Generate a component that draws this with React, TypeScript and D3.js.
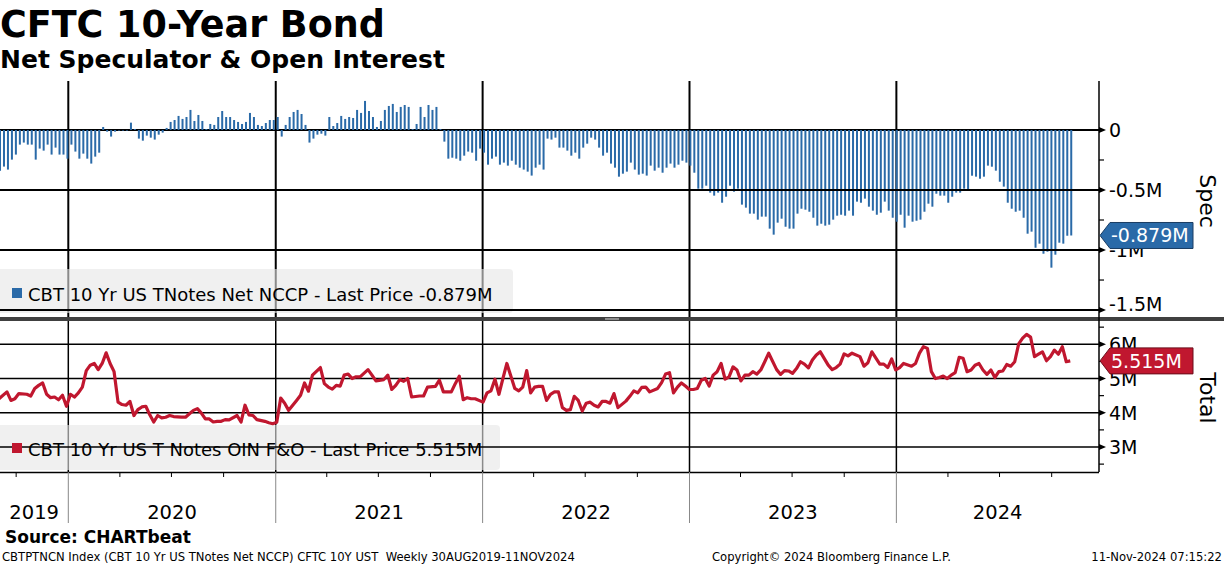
import React from 'react';
import * as d3 from 'd3';

// ---------- DATA ----------
const startDate = new Date(2019, 7, 30); // first weekly observation (30AUG2019)

// Net speculator position (millions of contracts), weekly from 30 Aug 2019
const specValues: number[] = [
  -0.34, -0.305, -0.33, -0.247, -0.205, -0.122, -0.105, -0.122, -0.122, -0.247,
  -0.155, -0.172, -0.122, -0.205, -0.147, -0.205, -0.205, -0.239, -0.122, -0.18,
  -0.239, -0.197, -0.239, -0.28, -0.222, -0.189, 0.025, -0.014, -0.055, -0.014,
  -0.005, -0.005, -0.005, 0.061, 0.008, -0.072, -0.089, -0.047, -0.064, -0.08,
  -0.039, -0.022, 0.017, 0.067, 0.083, 0.117, 0.092, 0.108, 0.167, 0.075,
  0.125, 0.075, 0.008, 0.05, 0.042, 0.108, 0.158, 0.108, 0.108, 0.083,
  0.067, 0.05, 0.067, 0.142, 0.108, 0.042, 0.033, 0.058, 0.083, 0.083,
  0.108, -0.055, 0.042, 0.108, 0.15, 0.167, 0.133, 0.042, -0.105, -0.072,
  -0.039, -0.031, -0.047, 0.108, 0.033, 0.058, 0.117, 0.092, 0.108, 0.1,
  0.167, 0.142, 0.242, 0.158, 0.108, 0.025, 0.075, 0.167, 0.2, 0.217,
  0.15, 0.192, 0.208, 0.192, 0.008, 0.05, 0.192, 0.108, 0.208, 0.167,
  0.192, 0.008, -0.097, -0.239, -0.231, -0.239, -0.256, -0.214, -0.18, -0.189,
  -0.256, -0.155, -0.189, -0.289, -0.239, -0.222, -0.289, -0.272, -0.297, -0.256,
  -0.289, -0.314, -0.33, -0.347, -0.38, -0.314, -0.289, -0.33, -0.072, -0.08,
  -0.064, -0.147, -0.147, -0.172, -0.214, -0.189, -0.239, -0.147, -0.114, -0.064,
  -0.08, -0.147, -0.214, -0.189, -0.28, -0.314, -0.389, -0.364, -0.347, -0.272,
  -0.33, -0.372, -0.364, -0.38, -0.297, -0.339, -0.314, -0.356, -0.314, -0.28,
  -0.314, -0.289, -0.256, -0.272, -0.297, -0.356, -0.489, -0.489, -0.464, -0.522,
  -0.547, -0.522, -0.606, -0.556, -0.464, -0.514, -0.489, -0.622, -0.647, -0.697,
  -0.697, -0.747, -0.722, -0.722, -0.822, -0.872, -0.772, -0.739, -0.806, -0.822,
  -0.822, -0.697, -0.656, -0.664, -0.681, -0.731, -0.797, -0.781, -0.797, -0.789,
  -0.747, -0.714, -0.706, -0.714, -0.672, -0.714, -0.597, -0.606, -0.572, -0.639,
  -0.672, -0.706, -0.689, -0.597, -0.672, -0.731, -0.764, -0.706, -0.814, -0.714,
  -0.764, -0.756, -0.747, -0.681, -0.614, -0.639, -0.531, -0.547, -0.547, -0.606,
  -0.556, -0.522, -0.522, -0.489, -0.497, -0.381, -0.389, -0.406, -0.389, -0.297,
  -0.306, -0.339, -0.431, -0.472, -0.606, -0.656, -0.681, -0.672, -0.731, -0.864,
  -0.847, -0.981, -0.947, -1.031, -1.014, -1.147, -1.039, -0.939, -0.947, -0.881,
  -0.879,
];

// Open interest (millions): week index since 30 Aug 2019, and value
const oiWeeks: number[] = [
  0, 2, 3, 4, 5, 7, 8, 9, 10, 11, 12, 13, 14, 15, 16, 17, 18, 19, 20, 21, 22, 23, 24, 25, 26, 27, 28, 29,
  30, 31, 32, 33, 34, 35, 36, 37, 38, 39, 40, 41, 42, 43, 44, 46, 47, 48, 49, 50, 51, 52, 53, 54, 55, 56,
  57, 58, 60, 61, 62, 63, 64, 65, 67, 68, 69, 70, 71, 72, 73, 75, 76, 77, 78, 79, 81, 82, 83, 84, 85, 86,
  87, 88, 89, 90, 91, 93, 94, 95, 97, 98, 99, 100, 101, 102, 103, 104, 106, 107, 108, 110, 111, 112, 114,
  115, 116, 117, 118, 119, 120, 122, 123, 124, 125, 126, 127, 128, 130, 131, 132, 133, 134, 135, 136, 137,
  138, 139, 140, 141, 142, 143, 144, 145, 146, 147, 148, 149, 150, 151, 152, 153, 154, 155, 156, 158, 159,
  160, 161, 162, 163, 164, 166, 167, 168, 169, 170, 171, 172, 173, 174, 175, 176, 177, 178, 179, 180, 181,
  182, 183, 184, 185, 186, 187, 188, 189, 190, 191, 192, 193, 194, 196, 197, 198, 199, 200, 201, 202, 203,
  204, 205, 206, 207, 209, 210, 211, 212, 213, 214, 215, 217, 218, 219, 220, 222, 223, 224, 225, 226, 227,
  228, 230, 231, 232, 233, 234, 235, 236, 237, 238, 239, 240, 241, 242, 243, 244, 245, 246, 247, 248, 249,
  250, 251, 252, 253, 254, 255, 256, 257, 258, 259, 260, 261, 262, 263, 264, 265, 266, 267, 268, 269, 270,
];
const oiValues: number[] = [
  4.41, 4.61, 4.36, 4.41, 4.56, 4.54, 4.49, 4.71, 4.8, 4.87, 4.54, 4.44, 4.46, 4.38, 4.51, 4.19, 4.54, 4.46, 4.58, 4.75, 5.23, 5.39, 5.44, 5.26, 5.44, 5.75, 5.44, 5.2,
  4.31, 4.24, 4.22, 4.33, 3.92, 4.09, 4.17, 4.19, 3.94, 3.73, 3.92, 3.85, 3.87, 3.92, 3.89, 3.87, 3.87, 3.97, 4.07, 4.12, 3.99, 3.82, 3.82, 3.73, 3.75, 3.75,
  3.8, 3.79, 3.92, 3.73, 4.22, 3.94, 3.92, 3.8, 3.75, 3.71, 3.68, 3.72, 4.43, 4.28, 4.07, 4.36, 4.51, 4.87, 4.63, 5.1, 5.32, 4.85, 4.75, 4.69, 4.8, 4.78,
  5.1, 5.13, 5.0, 5.05, 5.05, 5.26, 5.1, 4.93, 4.97, 5.1, 4.68, 4.8, 4.97, 4.92, 5.0, 4.46, 4.49, 4.49, 4.75, 4.77, 4.95, 4.61, 4.61,
  4.85, 5.07, 4.38, 4.44, 4.41, 4.41, 4.31, 4.58, 4.64, 4.98, 4.54, 5.0, 5.44, 4.71, 4.64, 4.75, 5.23, 4.58, 4.75, 4.77, 4.77,
  4.36, 4.54, 4.61, 4.61, 4.15, 4.07, 4.09, 4.48, 4.36, 4.05, 4.28, 4.31, 4.22, 4.17, 4.33, 4.33, 4.28, 4.56, 4.15, 4.34, 4.48,
  4.64, 4.58, 4.74, 4.75, 4.61, 4.71, 4.88, 5.13, 5.17, 4.58, 4.75, 4.87, 4.78, 4.68, 4.68, 4.71, 4.95, 5.0, 4.78, 5.1, 5.2,
  5.44, 4.98, 5.05, 5.34, 5.25, 4.93, 5.1, 5.1, 5.2, 5.13, 5.25, 5.49, 5.74, 5.26, 5.12, 5.23, 5.22, 5.15, 5.29, 5.49, 5.42,
  5.31, 5.54, 5.69, 5.78, 5.39, 5.26, 5.32, 5.42, 5.72, 5.66, 5.74, 5.64, 5.36, 5.46, 5.78, 5.42, 5.42, 5.32, 5.57, 5.25, 5.32,
  5.44, 5.36, 5.44, 5.74, 5.93, 5.88, 5.2, 5.0, 5.03, 5.07, 5.0, 5.1, 5.17, 5.62, 5.59, 5.2, 5.25, 5.39, 5.44, 5.25, 5.12,
  5.25, 5.03, 5.2, 5.22, 5.41, 5.36, 5.49, 6.01, 6.18, 6.29, 6.21, 5.64, 5.71, 5.78, 5.52, 5.64, 5.83, 5.71, 5.93, 5.49, 5.515,
];

const yearLabels = ['2019', '2020', '2021', '2022', '2023', '2024'];
const specTicks = [0, -0.5, -1, -1.5];
const specTickLabels = ['0', '-0.5M', '-1M', '-1.5M'];
const specMinor = [-0.25, -0.75, -1.25];
const oiTicks = [3, 4, 5, 6];
const oiTickLabels = ['3M', '4M', '5M', '6M'];
const oiMinor = [2.5, 3.5, 4.5, 5.5, 6.5];

const specLegend = 'CBT 10 Yr US TNotes Net NCCP - Last Price -0.879M';
const oiLegend = 'CBT 10 Yr US T Notes OIN F&O - Last Price 5.515M';
const specLast = '-0.879M';
const oiLast = '5.515M';

// ---------- STYLE ----------
const FONT = "'DejaVu Sans', sans-serif";
const BLUE = '#2a6aa8';
const RED = '#c0172f';

export default function App() {
  const AX = 1099;
  const x = d3
    .scaleTime()
    .domain([new Date(2019, 8, 2, 12), new Date(2024, 11, 23, 12)])
    .range([0, AX]);
  const ySpec = d3.scaleLinear().domain([0.408, -1.558]).range([81, 317]);
  const yOI = d3.scaleLinear().domain([6.68, 2.27]).range([321, 472]);
  const weekDate = (i: number) => d3.timeDay.offset(startDate, 7 * i);

  const yearStarts = d3.timeYear.range(new Date(2020, 0, 1), new Date(2024, 0, 2));
  const quarters = d3.timeMonth
    .every(3)!
    .range(new Date(2019, 9, 1), new Date(2024, 11, 2))
    .filter((d) => d.getMonth() !== 0);
  const bounds = [0, ...yearStarts.map((d) => x(d)), AX];

  const line = d3
    .line<number>()
    .x((_, i) => x(weekDate(oiWeeks[i])) + 1)
    .y((v) => yOI(v))
    .curve(d3.curveLinear);

  const specY = ySpec(specValues[specValues.length - 1]);
  const oiY = yOI(5.515);
  const badge = (cy: number) =>
    `M${AX + 1},${cy} L${AX + 11},${cy - 13} L1193,${cy - 13} L1193,${cy + 13} L${AX + 11},${cy + 13} Z`;

  // keep tick labels inside their panel
  const specLabelY = (t: number) => Math.min(ySpec(t), 304);

  return (
    <svg
      width={1224}
      height={566}
      style={{ position: 'absolute', left: 0, top: 0, background: '#fff' }}
      fontFamily={FONT}
    >
      <rect x={0} y={0} width={1224} height={566} fill="#fff" />
      {/* Titles */}
      <text x={0} y={37} fontSize={36.5} fontWeight="bold" fill="#000">CFTC 10-Year Bond</text>
      <text x={0} y={68} fontSize={25} fontWeight="bold" fill="#000">Net Speculator &amp; Open Interest</text>

      {/* ---------- TOP PANEL ---------- */}
      <line x1={0} x2={AX} y1={ySpec(0)} y2={ySpec(0)} stroke="#000" strokeWidth={2} />
      {yearStarts.map((d, i) => (
        <line key={'tv' + i} x1={x(d)} x2={x(d)} y1={81} y2={317} stroke="#000" strokeWidth={2} />
      ))}
      {specValues.map((v, i) => {
        const y0 = ySpec(Math.max(0, v));
        const y1 = ySpec(Math.min(0, v));
        return (
          <rect key={'b' + i} x={x(weekDate(i)) + 1} y={y0} width={2} height={Math.max(0.5, y1 - y0)} fill={BLUE} />
        );
      })}
      <rect x={-4} y={269} width={517} height={44} rx={4} fill="#e6e6e6" fillOpacity={0.6} />
      {specTicks.slice(1).map((t, i) => (
        <line key={'th' + i} x1={0} x2={AX} y1={ySpec(t)} y2={ySpec(t)} stroke="#000" strokeWidth={2} />
      ))}
      <rect x={12} y={288} width={10} height={10} fill={BLUE} />
      <text x={28} y={301} fontSize={18} fill="#000">{specLegend}</text>

      {/* ---------- BOTTOM PANEL ---------- */}
      {yearStarts.map((d, i) => (
        <line key={'bv' + i} x1={x(d)} x2={x(d)} y1={321} y2={472} stroke="#000" strokeWidth={1.5} />
      ))}
      <rect x={-4} y={425} width={504} height={45} rx={4} fill="#e6e6e6" fillOpacity={0.6} />
      {oiTicks.map((t, i) => (
        <line key={'bh' + i} x1={0} x2={AX} y1={yOI(t)} y2={yOI(t)} stroke="#000" strokeWidth={1.5} />
      ))}
      <path d={line(oiValues) || ''} fill="none" stroke={RED} strokeWidth={3.2} strokeLinejoin="round" />
      <rect x={12} y={443} width={10} height={10} fill={RED} />
      <text x={28} y={456} fontSize={18} fill="#000">{oiLegend}</text>

      {/* separator */}
      <rect x={0} y={317} width={1224} height={4} fill="#404040" />
      <rect x={605} y={318.2} width={14} height={1.6} fill="#a0a0a0" />

      {/* ---------- RIGHT AXIS ---------- */}
      <line x1={AX} x2={AX} y1={81} y2={472} stroke="#000" strokeWidth={1.5} />
      {specTicks.map((t, i) => (
        <g key={'st' + i}>
          <path d={`M${AX},${ySpec(t) - 3} L${AX + 7},${ySpec(t)} L${AX},${ySpec(t) + 3} Z`} fill="#000" />
          <text x={1109} y={specLabelY(t)} fontSize={19} dominantBaseline="central" fill="#000">{specTickLabels[i]}</text>
        </g>
      ))}
      {specMinor.map((t, i) => (
        <line key={'sm' + i} x1={AX} x2={AX + 5} y1={ySpec(t)} y2={ySpec(t)} stroke="#000" strokeWidth={1.2} />
      ))}
      {oiTicks.map((t, i) => (
        <g key={'ot' + i}>
          <path d={`M${AX},${yOI(t) - 3} L${AX + 7},${yOI(t)} L${AX},${yOI(t) + 3} Z`} fill="#000" />
          <text x={1109} y={yOI(t)} fontSize={19} dominantBaseline="central" fill="#000">{oiTickLabels[i]}</text>
        </g>
      ))}
      {oiMinor.map((t, i) => (
        <line key={'om' + i} x1={AX} x2={AX + 5} y1={yOI(t)} y2={yOI(t)} stroke="#000" strokeWidth={1.2} />
      ))}
      <text transform="translate(1200,201) rotate(90)" fontSize={22} textAnchor="middle" fill="#000">Spec</text>
      <text transform="translate(1200,398) rotate(90)" fontSize={22} textAnchor="middle" fill="#000">Total</text>

      {/* badges */}
      <path d={badge(specY)} fill={BLUE} stroke="#1a3d63" strokeWidth={1} />
      <text x={1111} y={specY} fontSize={19} fill="#fff" dominantBaseline="central">{specLast}</text>
      <path d={badge(oiY)} fill={RED} stroke="#6a0d1a" strokeWidth={1} />
      <text x={1111} y={oiY} fontSize={19} fill="#fff" dominantBaseline="central">{oiLast}</text>

      {/* ---------- X AXIS ---------- */}
      <line x1={0} x2={AX} y1={472.5} y2={472.5} stroke="#000" strokeWidth={1.5} />
      {quarters.map((d, i) => (
        <line key={'q' + i} x1={x(d)} x2={x(d)} y1={472} y2={477} stroke="#000" strokeWidth={1} />
      ))}
      {yearStarts.map((d, i) => (
        <line key={'ys' + i} x1={x(d)} x2={x(d)} y1={472} y2={523} stroke="#888" strokeWidth={1} />
      ))}
      {yearLabels.map((lab, i) => (
        <text key={'yl' + i} x={(bounds[i] + bounds[i + 1]) / 2} y={519} fontSize={19.5} textAnchor="middle" fill="#000">
          {lab}
        </text>
      ))}

      {/* ---------- FOOTER ---------- */}
      <text x={5} y={543} fontSize={17} fontWeight="bold" fill="#000">Source: CHARTbeat</text>
      <text x={2} y={561} fontSize={11.6} fill="#000" xmlSpace="preserve">
        CBTPTNCN Index (CBT 10 Yr US TNotes Net NCCP) CFTC 10Y UST  Weekly 30AUG2019-11NOV2024
      </text>
      <text x={712} y={561} fontSize={11.6} fill="#000">Copyright© 2024 Bloomberg Finance L.P.</text>
      <text x={1222} y={561} fontSize={11.6} textAnchor="end" fill="#000">11-Nov-2024 07:15:22</text>
    </svg>
  );
}
